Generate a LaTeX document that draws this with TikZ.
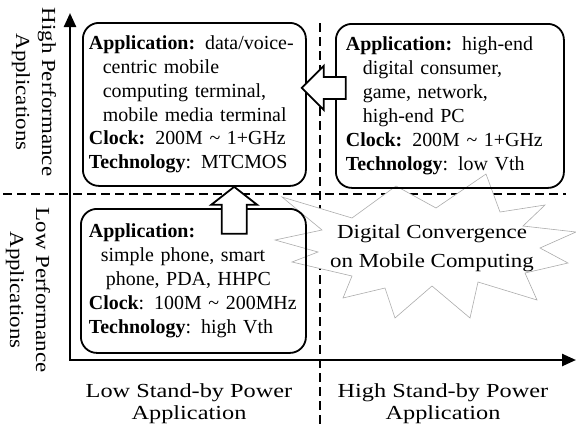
\documentclass[tikz,border=0pt]{standalone}
\usepackage{fontspec}
\setmainfont{Liberation Serif}
\newfontfamily\lblfont[FakeStretch=1.15]{Liberation Serif}
\newfontfamily\xlblfont[FakeStretch=1.22]{Liberation Serif}
\usetikzlibrary{arrows.meta,calc}
\begin{document}
\begin{tikzpicture}[x=1bp,y=-1bp,
  boxn/.style={draw, line width=1.8bp, rounded corners=16bp, align=left,
    anchor=north west, inner ysep=0pt, font=\fontsize{20}{24}\selectfont},
  blockarrow/.style={draw, fill=white, line width=1.8bp, line join=miter},
  axis/.style={line width=2.4bp, {Triangle[length=14bp,width=12bp]}-{Triangle[length=14bp,width=12bp]}},
  divider/.style={line width=1.4bp, dash pattern=on 9bp off 5bp},
  burst/.style={draw=gray!65, line width=0.6bp, fill=white},
  lbl/.style={font={\fontsize{20}{26}\lblfont}, align=center, inner sep=0pt},
  xlbl/.style={font={\fontsize{20}{22}\xlblfont}, align=center, inner sep=0pt}]
\useasboundingbox (0,0) rectangle (576,427);

% dashed quadrant lines
\coordinate (hl) at (3,194);
\coordinate (hr) at (566,194);
\coordinate (vt) at (320,23);
\coordinate (vb) at (320,427);
\draw[divider] (hl) -- (hr);
\draw[divider] (vt) -- (vb);

% axes
\coordinate (ytop) at (70,13);
\coordinate (O) at (70,360);
\coordinate (xend) at (576,360);
\draw[axis] (ytop) -- (O) -- (xend);

% starburst
\draw[burst] (282,197) -- (352,218) -- (396,186) -- (436,208) -- (486,174)
  -- (500,212) -- (545,205) -- (523,226) -- (576,232) -- (540,248)
  -- (568,263) -- (525,273) -- (537,300) -- (478,282) -- (470,318)
  -- (432,286) -- (395,318) -- (385,288) -- (343,298) -- (352,276)
  -- (292,262) -- (318,252) -- (275,240) -- (322,230) -- cycle;
\node[font={\fontsize{20}{29}\lblfont}, align=center, inner sep=0pt] (dc) at (432,248)
  {Digital Convergence\\on Mobile Computing};

% boxes
\node[boxn, minimum width=223bp, minimum height=163bp, inner xsep=6bp, text width=211bp] (tl) at (82,22)
  {\textbf{Application:} data/voice-\\\hspace*{14bp}centric mobile\\\hspace*{14bp}computing terminal,\\\hspace*{14bp}mobile media terminal\\\textbf{Clock:} 200M \textasciitilde{} 1+GHz\\\textbf{Technology}: MTCMOS};
\node[boxn, minimum width=228bp, minimum height=164bp, inner xsep=10bp, text width=208bp] (tr) at (335,23)
  {\textbf{Application:} high-end\\\hspace*{17bp}digital consumer,\\\hspace*{17bp}game, network,\\\hspace*{17bp}high-end PC\\\textbf{Clock:} 200M \textasciitilde{} 1+GHz\\\textbf{Technology}: low Vth};
\node[boxn, minimum width=225bp, minimum height=144bp, inner xsep=8bp, text width=209bp] (bl) at (80,208)
  {\textbf{Application:}\\\hspace*{12bp}simple phone, smart\\\hspace*{17bp}phone, PDA, HHPC\\\textbf{Clock}: 100M \textasciitilde{} 200MHz\\\textbf{Technology}: high Vth};

% block arrows
\coordinate (upt) at ($(tl.south west)!0.677!(tl.south east)$);
\draw[blockarrow] (upt) -- ++(23,18) -- ++(-10.5,0) -- ++(0,29) -- ++(-25,0)
  -- ++(0,-29) -- ++(-10.5,0) -- cycle;
\coordinate (lt) at ($(tl.east)+(-5,-16.5)$);
\draw[blockarrow] (lt) -- ++(22,-22) -- ++(0,11) -- ++(22,0) -- ++(0,22)
  -- ++(-22,0) -- ++(0,11) -- cycle;

% axis labels
\node[lbl, rotate=-90] (yh) at (34,92) {High Performance\\Applications};
\node[lbl, rotate=-90] (yl) at (28,290) {Low Performance\\Applications};
\node[xlbl] (xl) at (189,404) {Low Stand-by Power\\Application};
\node[xlbl] (xh) at (443,404) {High Stand-by Power\\Application};
\end{tikzpicture}
\end{document}
